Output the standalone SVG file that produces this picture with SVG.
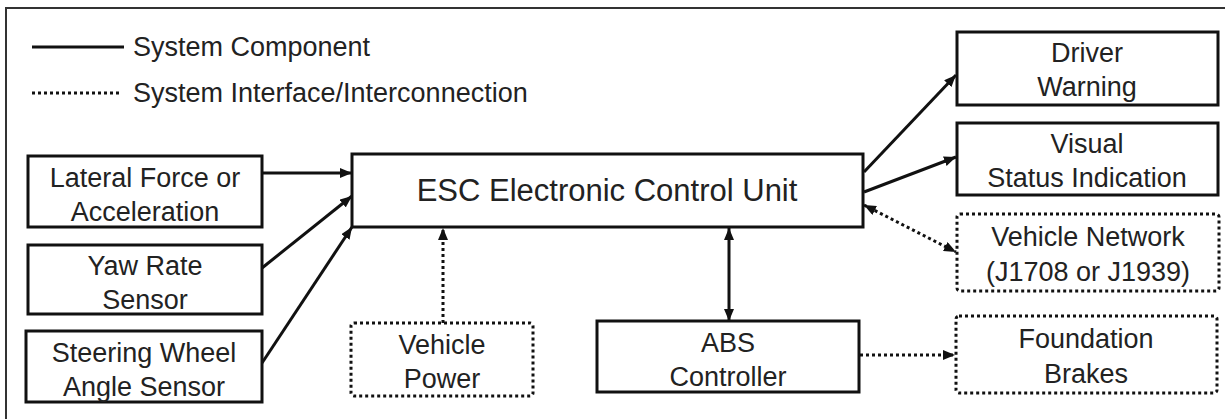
<svg xmlns="http://www.w3.org/2000/svg" width="1225" height="419" viewBox="0 0 1225 419">
  <style>
    .box { fill: #fff; stroke: #111; stroke-width: 3; }
    .dbox { fill: #fff; stroke: #111; stroke-width: 3; stroke-dasharray: 3 3; }
    .lbl { font-family: "Liberation Sans", Arial, sans-serif; font-size: 27px; fill: #222; text-anchor: middle; }
    .big { font-size: 31px; }
    .leg { font-family: "Liberation Sans", Arial, sans-serif; font-size: 27px; fill: #222; }
    .sol { fill: none; stroke: #111; stroke-width: 3; }
    .dot { fill: none; stroke: #111; stroke-width: 3; stroke-dasharray: 3 3; }
  </style>
  <defs>
    <marker id="ah" viewBox="0 0 12 10" refX="12" refY="5" markerWidth="12" markerHeight="10" markerUnits="userSpaceOnUse" orient="auto-start-reverse">
      <path d="M0,0 L12,5 L0,10 Z" fill="#111"/>
    </marker>
  </defs>
  <rect x="0" y="0" width="1225" height="419" fill="#fff"/>
  <rect x="6" y="8" width="1240" height="440" fill="none" stroke="#333" stroke-width="2"/>

  <g id="legend">
    <line class="sol" x1="32" y1="47" x2="124" y2="47"/>
    <text class="leg" x="133" y="56">System Component</text>
    <line class="dot" x1="32" y1="93" x2="122" y2="93"/>
    <text class="leg" x="133" y="102">System Interface/Interconnection</text>
  </g>

  <g id="connectors">
    <line class="sol" x1="262" y1="173" x2="352" y2="173" marker-end="url(#ah)"/>
    <line class="sol" x1="262" y1="268" x2="352" y2="196" marker-end="url(#ah)"/>
    <line class="sol" x1="262" y1="363" x2="352" y2="227" marker-end="url(#ah)"/>
    <line class="dot" x1="443" y1="323" x2="443" y2="228" marker-end="url(#ah)"/>
    <line class="sol" x1="729" y1="228" x2="729" y2="321" marker-start="url(#ah)" marker-end="url(#ah)"/>
    <line class="sol" x1="864" y1="172" x2="956" y2="75" marker-end="url(#ah)"/>
    <line class="sol" x1="864" y1="192" x2="956" y2="157" marker-end="url(#ah)"/>
    <line class="dot" x1="864" y1="205" x2="956" y2="252" marker-start="url(#ah)" marker-end="url(#ah)"/>
    <line class="dot" x1="860" y1="355" x2="955" y2="355" marker-end="url(#ah)"/>
  </g>

  <g id="lateral">
    <rect class="box" x="28" y="156" width="234" height="71"/>
    <text class="lbl" x="145" y="187">Lateral Force or</text>
    <text class="lbl" x="145" y="221">Acceleration</text>
  </g>
  <g id="yaw">
    <rect class="box" x="28" y="245" width="234" height="69"/>
    <text class="lbl" x="145" y="275">Yaw Rate</text>
    <text class="lbl" x="145" y="309">Sensor</text>
  </g>
  <g id="steering">
    <rect class="box" x="26" y="331" width="236" height="71"/>
    <text class="lbl" x="144" y="362">Steering Wheel</text>
    <text class="lbl" x="144" y="396">Angle Sensor</text>
  </g>
  <g id="esc">
    <rect class="box" x="352" y="154" width="511" height="73"/>
    <text class="lbl big" x="607" y="201">ESC Electronic Control Unit</text>
  </g>
  <g id="power">
    <rect class="dbox" x="351" y="323" width="182" height="73" rx="3"/>
    <text class="lbl" x="442" y="354">Vehicle</text>
    <text class="lbl" x="442" y="388">Power</text>
  </g>
  <g id="abs">
    <rect class="box" x="597" y="321" width="262" height="71"/>
    <text class="lbl" x="728" y="352">ABS</text>
    <text class="lbl" x="728" y="386">Controller</text>
  </g>
  <g id="driver">
    <rect class="box" x="957" y="32" width="261" height="73"/>
    <text class="lbl" x="1087" y="62">Driver</text>
    <text class="lbl" x="1087" y="96">Warning</text>
  </g>
  <g id="visual">
    <rect class="box" x="957" y="123" width="261" height="72"/>
    <text class="lbl" x="1087" y="153">Visual</text>
    <text class="lbl" x="1087" y="187">Status Indication</text>
  </g>
  <g id="network">
    <rect class="dbox" x="957" y="214" width="262" height="77" rx="3"/>
    <text class="lbl" x="1088" y="246">Vehicle Network</text>
    <text class="lbl" x="1088" y="281">(J1708 or J1939)</text>
  </g>
  <g id="brakes">
    <rect class="dbox" x="956" y="316" width="261" height="77" rx="3"/>
    <text class="lbl" x="1086" y="348">Foundation</text>
    <text class="lbl" x="1086" y="383">Brakes</text>
  </g>
</svg>
